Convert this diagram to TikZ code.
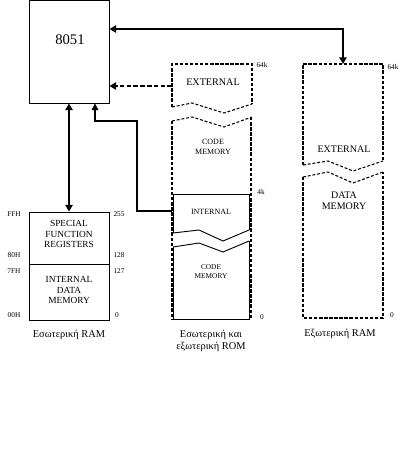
\documentclass[tikz,border=0pt]{standalone}
\usepackage{fontspec}
\setmainfont{Liberation Serif}
\usetikzlibrary{arrows.meta}
\begin{document}
\begin{tikzpicture}[x=0.75pt,y=-0.75pt,
  heavydash/.style={line width=1.4pt,dash pattern=on 2.6pt off 1.2pt},
  thindash/.style={line width=0.8pt,dash pattern=on 2.2pt off 1.4pt},
  thinline/.style={line width=0.7pt},
  bigarrow/.style={line width=1.5pt,{Triangle[length=5pt,width=5.5pt]}-{Triangle[length=5pt,width=5.5pt]}},
  dasharrow/.style={line width=1.5pt,dash pattern=on 3.5pt off 1.6pt,-{Triangle[length=5pt,width=5.5pt]}},
  thinarrow/.style={line width=0.8pt,-{Triangle[length=5pt,width=5pt]}},
  boxn/.style={draw,thinline,inner sep=0pt},
  lbl/.style={font=\fontsize{7}{7.8}\selectfont,align=center,inner sep=0pt},
  lbls/.style={font=\fontsize{6}{7.2}\selectfont,align=center,inner sep=0pt},
  tiny/.style={font=\fontsize{5.5}{6}\selectfont,inner sep=0pt},
  captext/.style={font=\fontsize{7.8}{9}\selectfont,align=center,inner sep=0pt},
]
\useasboundingbox (0,0) rectangle (415,454);

% 8051
\node[boxn,minimum width=60pt,minimum height=77.25pt] (cpu) at (69,51.5) {};
\node[font=\fontsize{11}{11}\selectfont,inner sep=0pt] (t8051) at (70,40) {8051};

% internal RAM
\node[boxn,minimum width=60pt,minimum height=81pt] (iram) at (69,266) {};
\coordinate (divL) at (29,264);
\coordinate (divR) at (109,264);
\draw[thinline] (divL) -- (divR);
\node[lbl] (sfr) at (69,234) {SPECIAL\\FUNCTION\\REGISTERS};
\node[lbl] (idm) at (69,290) {INTERNAL\\DATA\\MEMORY};
\node[tiny] (ffh) at (14,214) {FFH};
\node[tiny] (h80) at (14,255) {80H};
\node[tiny] (h7f) at (14,271) {7FH};
\node[tiny] (h00) at (14,315) {00H};
\node[tiny] (d255) at (119,214) {255};
\node[tiny] (d128) at (119,255) {128};
\node[tiny] (d127) at (119,271) {127};
\node[tiny] (d0a) at (117,315) {0};
\node[captext] (capram) at (69,335) {Εσωτερική RAM};

% code memory column
\draw[heavydash] (172,107) -- (172,64) -- (252,64) -- (252,104);
\draw[thindash] (172,107) -- (192,103) -- (224,113) -- (252,104);
\draw[thindash] (172,121) -- (192,117) -- (224,127) -- (252,117);
\draw[heavydash] (172,121) -- (172,319);
\draw[heavydash] (251,117) -- (251,319);
\draw[thinline] (173,233) -- (173,194) -- (249,194) -- (249,230);
\draw[thinline] (173,233) -- (199,230) -- (223,241) -- (249,230);
\draw[thinline] (173,247) -- (199,243) -- (223,252) -- (249,241);
\draw[thinline] (173,247) -- (173,319) -- (249,319) -- (249,241);
\node[lbl,font=\fontsize{7.6}{8}\selectfont] (ext1) at (213,82) {EXTERNAL};
\node[lbls] (cm1) at (213,147) {CODE\\MEMORY};
\node[lbls] (int1) at (211,212) {INTERNAL};
\node[font=\fontsize{5.5}{6.6}\selectfont,align=center,inner sep=0pt] (cm2) at (211,272) {CODE\\MEMORY};
\node[tiny] (k64a) at (262,65) {64k};
\node[tiny] (k4) at (261,192) {4k};
\node[tiny] (d0b) at (262,317) {0};
\node[captext] (caprom) at (211,340.5) {Εσωτερική και\\εξωτερική ROM};
\coordinate (romext) at (172,86);
\coordinate (intL) at (172,211);

% external data memory column
\draw[heavydash] (303,165) -- (303,64) -- (383,64) -- (383,161);
\draw[thindash] (303,165) -- (328,161) -- (353,171) -- (383,161);
\draw[thindash] (303,177) -- (328,172) -- (353,183) -- (383,172);
\draw[heavydash] (303,177) -- (303,318) -- (383,318) -- (383,172);
\node[lbl,font=\fontsize{7.5}{8.5}\selectfont] (ext2) at (344,149) {EXTERNAL};
\node[lbl,font=\fontsize{7.5}{8.5}\selectfont] (dm) at (344,201) {DATA\\MEMORY};
\node[tiny] (k64b) at (393,67) {64k};
\node[tiny] (d0c) at (392,315) {0};
\node[captext] (capxram) at (340,334) {Εξωτερική RAM};
\coordinate (xtop) at (343,64);
\coordinate (r29) at (0,29);

% connectors
\draw[bigarrow] (cpu.east |- r29) -- (xtop |- r29) -- (xtop);
\draw[dasharrow] (romext) -- (cpu.east |- romext);
\draw[bigarrow] (cpu.south) -- (iram.north);
\coordinate (bend) at (137,121);
\coordinate (c95) at (95,121);
\draw[thinarrow] (intL) -| (bend) -- (c95) -- (c95 |- cpu.south);
\end{tikzpicture}
\end{document}
